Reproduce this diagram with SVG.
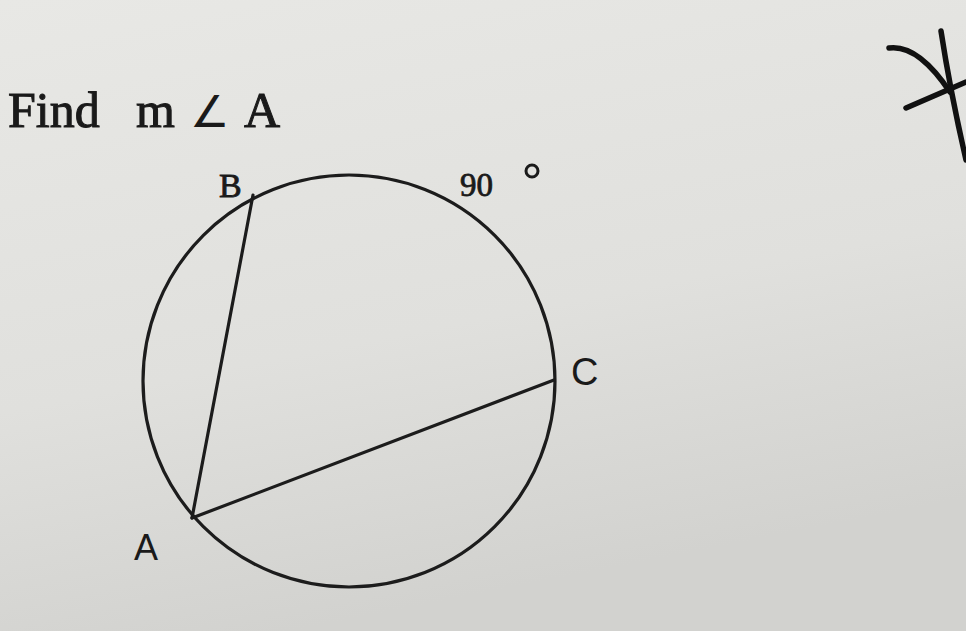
<svg xmlns="http://www.w3.org/2000/svg" width="966" height="631" viewBox="0 0 966 631">
<defs>
<linearGradient id="paper" x1="0" y1="0" x2="0.3" y2="1">
<stop offset="0" stop-color="#e8e8e5"/>
<stop offset="0.6" stop-color="#e0e0dd"/>
<stop offset="1" stop-color="#d2d2cf"/>
</linearGradient>
<style>
.ln{fill:none;stroke:#1c1c1c;stroke-width:3.2;stroke-linecap:round}
.hand{fill:none;stroke:#111;stroke-width:5.5;stroke-linecap:round}
.title{font-family:"Liberation Serif",serif;font-size:50px;fill:#1a1a1a;stroke:#1a1a1a;stroke-width:1}
.sym{font-family:"DejaVu Sans",sans-serif;font-size:44px;fill:#1a1a1a}
.lbl{font-family:"Liberation Sans",sans-serif;fill:#1a1a1a}
.slbl{font-family:"Liberation Serif",serif;fill:#1a1a1a;stroke:#1a1a1a;stroke-width:0.8}
</style>
</defs>
<rect width="966" height="631" fill="url(#paper)"/>
<g id="title">
<text class="title" x="8" y="127">Find</text>
<text class="title" x="136" y="127">m</text>
<text class="sym" x="190" y="127">∠</text>
<text class="title" x="244" y="127">A</text>
</g>
<g id="circle">
<circle class="ln" cx="349" cy="381" r="206"/>
</g>
<g id="connectors">
<line class="ln" x1="253" y1="195" x2="192" y2="518"/>
<line class="ln" x1="192" y1="518" x2="554" y2="380"/>
</g>
<g id="labelB"><text class="slbl" x="219" y="197" font-size="34">B</text></g>
<g id="labelC"><text class="lbl" x="571" y="385" font-size="38">C</text></g>
<g id="labelA"><text class="lbl" x="134" y="560" font-size="36">A</text></g>
<g id="arc90">
<text class="slbl" x="460" y="196" font-size="33">90</text>
<circle cx="532" cy="171" r="6" fill="none" stroke="#1a1a1a" stroke-width="3"/>
</g>
<g id="mark">
<path class="hand" d="M889 48 Q918 44 950 92"/>
<path class="hand" d="M906 108 L966 82"/>
<path class="hand" d="M941 31 Q950 90 966 160"/>
</g>
</svg>
